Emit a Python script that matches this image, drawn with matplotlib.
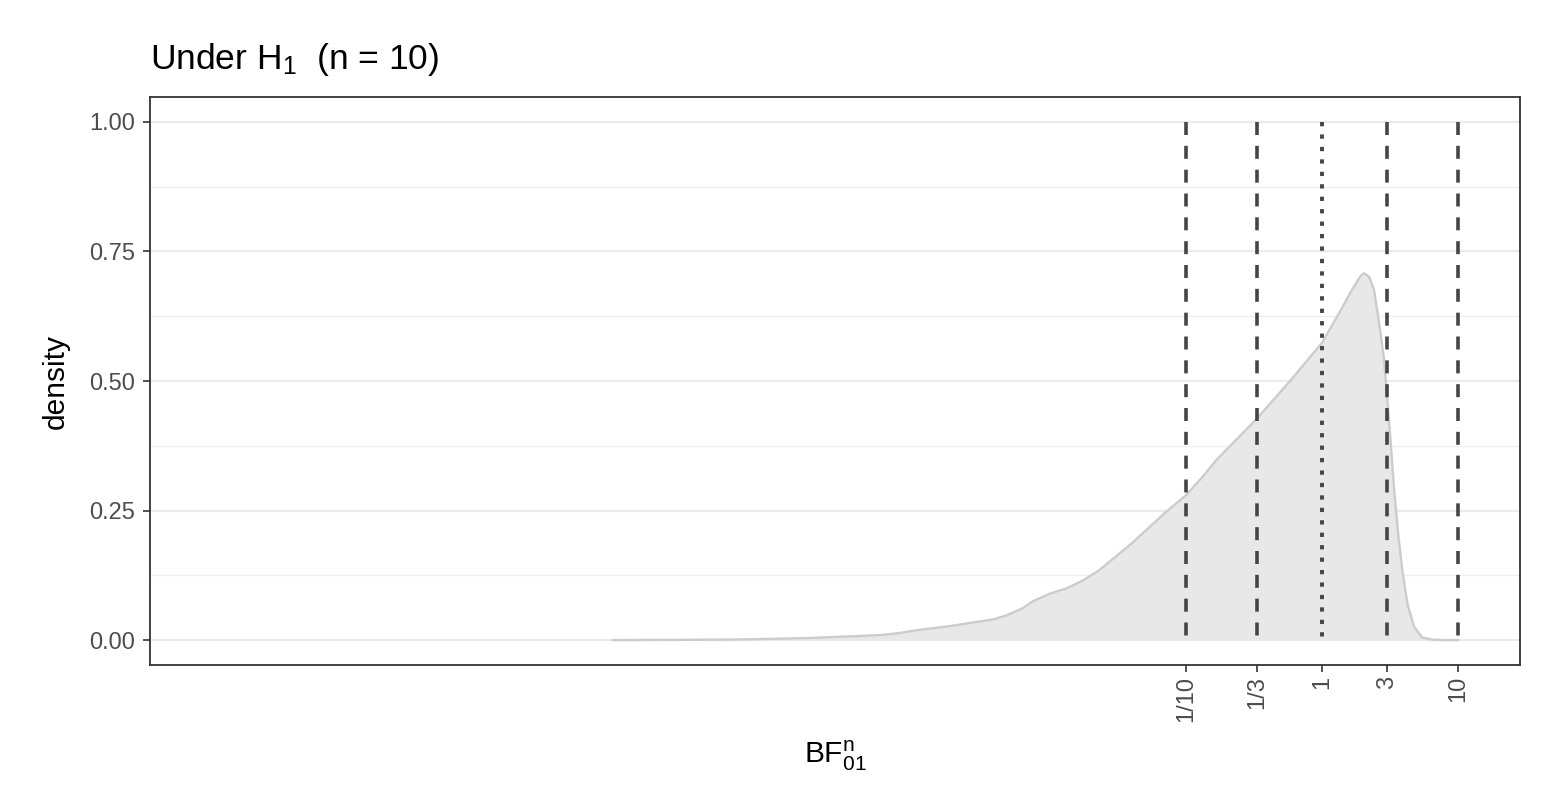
import numpy as np
import matplotlib
matplotlib.use("Agg")
import matplotlib.pyplot as plt

plt.rcParams['font.family'] = ['Liberation Sans', 'DejaVu Sans']
plt.rcParams['mathtext.fontset'] = 'custom'
plt.rcParams['mathtext.rm'] = 'Liberation Sans'
plt.rcParams['mathtext.it'] = 'Liberation Sans:italic'
plt.rcParams['mathtext.bf'] = 'Liberation Sans:bold'

# density of log10 Bayes factor
log10_bf = [-5.22, -4.8, -4.34, -3.95, -3.79, -3.60, -3.40, -3.24, -3.10, -2.99,
            -2.74, -2.57, -2.42, -2.32, -2.20, -2.13, -2.00, -1.88, -1.76, -1.64,
            -1.40, -1.15, -1.00, -0.88, -0.78, -0.478, -0.243, -0.169, 0.0, 0.125,
            0.22, 0.284, 0.309, 0.346, 0.382, 0.419, 0.456, 0.48, 0.505, 0.53,
            0.559, 0.59, 0.627, 0.676, 0.735, 0.81, 0.9, 1.0]
density = [0.0, 0.0005, 0.001, 0.003, 0.004, 0.006, 0.008, 0.010, 0.014, 0.019,
           0.027, 0.034, 0.040, 0.048, 0.062, 0.075, 0.090, 0.100, 0.115, 0.135,
           0.187, 0.247, 0.280, 0.315, 0.347, 0.428, 0.498, 0.521, 0.574, 0.631,
           0.676, 0.703, 0.708, 0.701, 0.676, 0.612, 0.541, 0.463, 0.380, 0.290,
           0.206, 0.135, 0.071, 0.026, 0.005, 0.001, 0.0, 0.0]

dashed_bf = [1/10, 1/3, 3, 10]
dotted_bf = [1]
tick_bf = [1/10, 1/3, 1, 3, 10]
tick_labels = ['1/10', '1/3', '1', '3', '10']
y_ticks = [0.0, 0.25, 0.5, 0.75, 1.0]
y_minor = [0.125, 0.375, 0.625, 0.875]

bf = 10 ** np.array(log10_bf)

fig = plt.figure(figsize=(15.59, 8.0), dpi=100)
W, H = 1559, 800
ax = fig.add_axes([150 / W, 1 - 665 / H, (1520 - 150) / W, (665 - 97) / H])
ax.set_xscale('log')

for yv in y_ticks:
    ax.axhline(yv, color='#EBEBEB', lw=1.6, zorder=0)
for yv in y_minor:
    ax.axhline(yv, color='#EFEFEF', lw=0.9, zorder=0)

ax.fill_between(bf, density, 0, color='#E8E8E8', alpha=1.0, lw=0, zorder=1)
ax.plot(bf, density, color='#CCCCCC', lw=1.7, zorder=2, solid_joinstyle='round')

for v in dashed_bf:
    ax.plot([v, v], [1, 0], color='#454545', lw=2.6, ls=(0, (3.6, 3.0)),
            dash_capstyle='butt', zorder=3)
for v in dotted_bf:
    ax.plot([v, v], [1, 0], color='#454545', lw=2.8, ls=(0, (1.1, 2.1)),
            dash_capstyle='butt', zorder=3)

ax.set_xlim(10 ** -8.625, 10 ** 1.456)
ax.set_ylim(-0.048, 1.048)

ax.set_xticks(tick_bf)
ax.set_xticklabels(tick_labels, rotation=90)
ax.xaxis.set_minor_locator(matplotlib.ticker.NullLocator())
ax.set_yticks(y_ticks)
ax.set_yticklabels(['0.00', '0.25', '0.50', '0.75', '1.00'])

ax.tick_params(axis='both', which='major', length=5, width=1.2, color='#333333',
               labelcolor='#4D4D4D', labelsize=17)
ax.tick_params(axis='y', pad=6)
ax.tick_params(axis='x', pad=3)
for s in ax.spines.values():
    s.set_color('#333333')
    s.set_linewidth(1.3)

ax.set_ylabel('density', fontsize=21.5, color='black', labelpad=14)
ax.set_xlabel(r'$\mathrm{BF}_{01}^{\mathrm{n}}$', fontsize=21.5, color='black', labelpad=12)

fig.text(150 / W, 1 - 69 / H, r'Under H$_1$  (n = 10)', fontsize=25.5,
         ha='left', va='baseline', color='black')

fig.savefig('out.png', dpi=100, facecolor='white')
